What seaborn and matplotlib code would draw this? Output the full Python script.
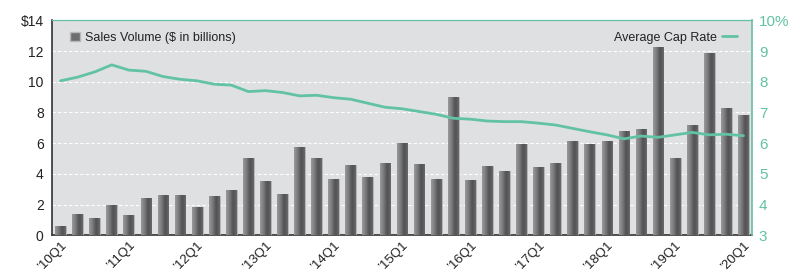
import numpy as np
import pandas as pd
import matplotlib
matplotlib.use("Agg")
import matplotlib.pyplot as plt
from matplotlib.colors import LinearSegmentedColormap
from matplotlib.lines import Line2D
from matplotlib.patches import Patch
import seaborn as sns

quarters = [f"{y}Q{q}" for y in range(10, 21) for q in range(1, 5)][:41]
sales = [0.6, 1.36, 1.14, 1.96, 1.32, 2.42, 2.61, 2.61, 1.81, 2.53,
         2.92, 5.03, 3.52, 2.66, 5.74, 5.03, 3.65, 4.56, 3.82, 4.73,
         5.99, 4.62, 3.63, 9.03, 3.58, 4.49, 4.21, 5.96, 4.47, 4.69,
         6.13, 5.92, 6.16, 6.82, 6.89, 12.25, 5.01, 7.15, 11.9, 8.31, 7.86]
cap_rate = [8.03, 8.15, 8.32, 8.55, 8.38, 8.34, 8.17, 8.08, 8.03, 7.92,
            7.89, 7.68, 7.71, 7.65, 7.54, 7.56, 7.48, 7.43, 7.30, 7.17,
            7.12, 7.03, 6.94, 6.81, 6.78, 6.72, 6.70, 6.70, 6.65, 6.59,
            6.48, 6.37, 6.27, 6.14, 6.23, 6.19, 6.27, 6.35, 6.27, 6.29, 6.24]
tick_labels = ["\u201910Q1", "\u201911Q1", "\u201912Q1", "\u201913Q1", "\u201914Q1", "\u201915Q1",
               "\u201916Q1", "\u201917Q1", "\u201918Q1", "\u201919Q1", "\u201920Q1"]
left_ticks = [0, 2, 4, 6, 8, 10, 12, 14]
left_labels = ["0", "2", "4", "6", "8", "10", "12", "$14"]
right_ticks = [3, 4, 5, 6, 7, 8, 9, 10]
right_labels = ["3", "4", "5", "6", "7", "8", "9", "10%"]

TEAL = "#62c2a4"
BG = "#dfe0e2"

sns.set_style("white")
plt.rcParams["font.family"] = ["Liberation Sans", "DejaVu Sans"]

df = pd.DataFrame({"quarter": quarters, "sales": sales, "cap": cap_rate, "pos": np.arange(len(quarters))})

fig = plt.figure(figsize=(8, 2.79), dpi=100)
ax = fig.add_axes([0.065, 0.157, 0.875, 0.77])
ax.set_facecolor(BG)

sns.barplot(data=df, x="quarter", y="sales", color="#6d6d6f", width=0.63, ax=ax,
            saturation=1, zorder=3)
cmap = LinearSegmentedColormap.from_list("g", ["#9a9a9c", "#7a7a7c", "#505052", "#6a6a6c"])
grad = np.linspace(0, 1, 64).reshape(1, -1)
for p in ax.patches:
    x0, y0 = p.get_x(), p.get_y()
    w, h = p.get_width(), p.get_height()
    im = ax.imshow(grad, cmap=cmap, extent=[x0, x0 + w, y0, y0 + h], aspect="auto",
                   zorder=4, interpolation="bicubic")
    im.set_clip_path(p)
    p.set_edgecolor("#b8b8ba")
    p.set_linewidth(0.6)

ax.set_xlim(-0.5, 40.5)
ax.set_ylim(0, 14)
ax.set_yticks(left_ticks)
ax.set_yticklabels(left_labels, fontsize=10, color="#222222")
ax.set_xticks(list(range(0, 41, 4)))
ax.set_xticklabels(tick_labels, rotation=45, ha="right", rotation_mode="anchor",
                   fontsize=9.5, color="#222222")
ax.tick_params(axis="both", length=0, pad=6)
ax.tick_params(axis="x", pad=3)
for yv in [2, 4, 6, 8, 10, 12]:
    ax.axhline(yv, color="white", lw=0.8, ls=(0, (3, 2)), zorder=1)
ax.set_xlabel("")
ax.set_ylabel("")
ax.spines["left"].set_color("#333333")
ax.spines["left"].set_linewidth(1.2)
ax.spines["bottom"].set_color("#333333")
ax.spines["bottom"].set_linewidth(1.2)
ax.spines["top"].set_color(TEAL)
ax.spines["right"].set_visible(False)

ax2 = ax.twinx()
sns.lineplot(data=df, x="pos", y="cap", color=TEAL, lw=2, ax=ax2, zorder=5)
ax2.set_ylim(3, 10)
ax2.set_xlim(-0.5, 40.5)
ax2.set_yticks(right_ticks)
ax2.set_yticklabels(right_labels, fontsize=11, color=TEAL)
ax2.tick_params(axis="y", length=0, pad=5)
ax2.set_ylabel("")
ax2.set_xlabel("")
for s in ["left", "bottom"]:
    ax2.spines[s].set_visible(False)
ax2.spines["top"].set_color(TEAL)
ax2.spines["right"].set_color(TEAL)
ax2.spines["right"].set_linewidth(1.2)

leg1 = ax.legend(handles=[Patch(facecolor="#6d6d6f", edgecolor="#b8b8ba", label="Sales Volume ($ in billions)")],
                 loc="upper left", bbox_to_anchor=(0.01, 1.0), frameon=False, fontsize=9,
                 handlelength=0.8, handleheight=0.8, handletextpad=0.4)
leg2 = ax2.legend(handles=[Line2D([], [], color=TEAL, lw=2, label="Average Cap Rate")],
                  loc="upper right", bbox_to_anchor=(0.995, 1.0), frameon=False, fontsize=9,
                  markerfirst=False, handlelength=1.2, handletextpad=0.4)
for t in leg1.get_texts() + leg2.get_texts():
    t.set_color("#222222")

fig.savefig("out.png", dpi=100, facecolor="white")
